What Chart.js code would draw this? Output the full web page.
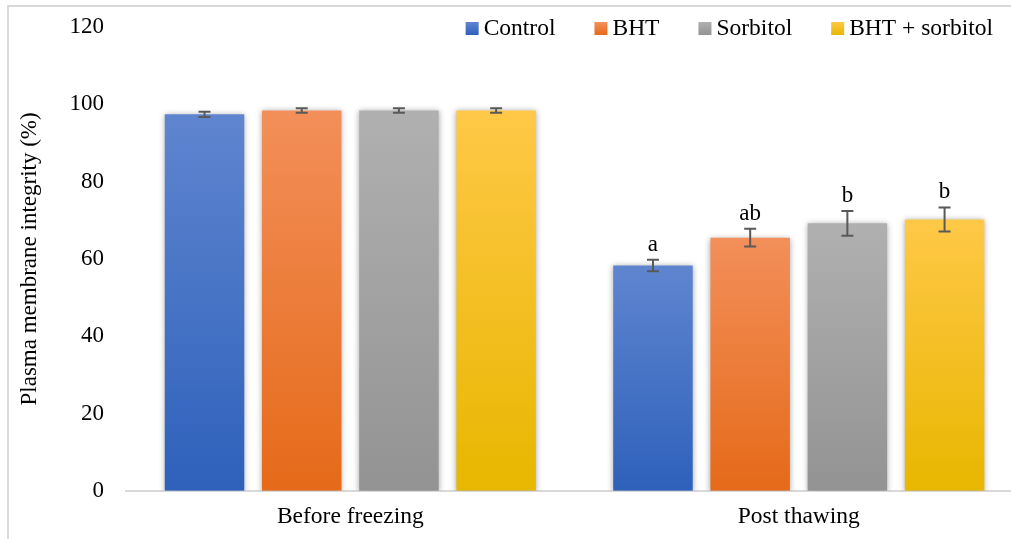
<!DOCTYPE html>
<html>
<head>
<meta charset="utf-8">
<script src="https://cdn.jsdelivr.net/npm/chart.js@4.4.1/dist/chart.umd.min.js"></script>
<style>
  html, body { margin: 0; padding: 0; background: #fff; overflow: hidden; }
  #clip { position: absolute; left: 0; top: 0; width: 1011px; height: 539px; overflow: hidden; }
  #frame { position: absolute; left: 7px; top: 5px; width: 1200px; height: 800px;
           border-left: 2px solid #d9d9d9; border-top: 2px solid #d9d9d9; }
  #wrap { position: absolute; left: 0; top: 0; width: 1025px; height: 539px; }
</style>
</head>
<body>
<div id="clip">
<div id="frame"></div>
<div id="wrap"><canvas id="pmi"></canvas></div>
</div>
<script>
// Setup
const categories = ['Before freezing', 'Post thawing']
const seriesNames = ['Control', 'BHT', 'Sorbitol', 'BHT + sorbitol']

const control = [97.4, 58.3]
const bht = [98.4, 65.5]
const sorbitol = [98.4, 69.2]
const bhtSorbitol = [98.4, 70.2]

const controlErr = [0.7, 1.5]
const bhtErr = [0.6, 2.3]
const sorbitolErr = [0.6, 3.2]
const bhtSorbitolErr = [0.6, 3.1]

// significance letters over the bars
const controlSig = ['', 'a']
const bhtSig = ['', 'ab']
const sorbitolSig = ['', 'b']
const bhtSorbitolSig = ['', 'b']

const yTicks = [0, 20, 40, 60, 80, 100, 120]

const FONT = '"Liberation Serif", "Times New Roman", serif'
// [top, bottom] of each bar gradient
const COLORS = [
    ['#5f85cf', '#2e61bb'],
    ['#f38f5a', '#e56a19'],
    ['#b0b0b0', '#939393'],
    ['#ffc847', '#e7b700'],
]

const values = [control, bht, sorbitol, bhtSorbitol]
const errors = [controlErr, bhtErr, sorbitolErr, bhtSorbitolErr]
const sigs = [controlSig, bhtSig, sorbitolSig, bhtSorbitolSig]

function barFill(context) {
    const cols = COLORS[context.datasetIndex]
    const chart = context.chart
    if (!chart.chartArea || context.type !== 'data') return cols[0]
    const y = chart.scales.y
    const top = y.getPixelForValue(context.raw)
    const base = y.getPixelForValue(0)
    const g = chart.ctx.createLinearGradient(0, top, 0, base)
    g.addColorStop(0, cols[0])
    g.addColorStop(1, cols[1])
    return g
}

const data = {
    labels: categories,
    datasets: seriesNames.map((name, i) => ({
        label: name,
        data: values[i],
        backgroundColor: barFill,
        borderWidth: 0,
        categoryPercentage: 0.867,
        barPercentage: 0.818,
    }))
}

// soft shadow under bars, error bars, letters, legend
const extras = {
    id: 'extras',
    beforeDatasetsDraw(chart) {
        const ctx = chart.ctx
        ctx.save()
        ctx.shadowColor = 'rgba(0,0,0,0.35)'
        ctx.shadowBlur = 6
        ctx.shadowOffsetY = 1
    },
    afterDatasetsDraw(chart) {
        const ctx = chart.ctx
        ctx.restore()
        const y = chart.scales.y
        ctx.save()
        ctx.strokeStyle = '#595959'
        ctx.lineWidth = 2
        ctx.fillStyle = '#000'
        ctx.font = '23px ' + FONT
        ctx.textAlign = 'center'
        ctx.textBaseline = 'alphabetic'
        chart.data.datasets.forEach((ds, i) => {
            const meta = chart.getDatasetMeta(i)
            meta.data.forEach((bar, j) => {
                const v = values[i][j], e = errors[i][j]
                const hi = y.getPixelForValue(v + e)
                const lo = y.getPixelForValue(v - e)
                ctx.beginPath()
                ctx.moveTo(bar.x, hi); ctx.lineTo(bar.x, lo)
                ctx.moveTo(bar.x - 6, hi); ctx.lineTo(bar.x + 6, hi)
                ctx.moveTo(bar.x - 6, lo); ctx.lineTo(bar.x + 6, lo)
                ctx.stroke()
                if (sigs[i][j]) ctx.fillText(sigs[i][j], bar.x, hi - 9)
            })
        })
        ctx.restore()
    },
    afterDraw(chart) {
        const ctx = chart.ctx
        ctx.save()
        ctx.font = '23.5px ' + FONT
        ctx.textBaseline = 'middle'
        ctx.fillStyle = '#000'
        let right = 993
        for (let i = seriesNames.length - 1; i >= 0; i--) {
            const w = ctx.measureText(seriesNames[i]).width
            const tx = right - w
            const sx = tx - 18
            const g = ctx.createLinearGradient(0, 22, 0, 35)
            g.addColorStop(0, COLORS[i][0]); g.addColorStop(1, COLORS[i][1])
            ctx.fillStyle = g
            ctx.fillRect(sx, 22, 13, 13)
            ctx.fillStyle = '#000'
            ctx.fillText(seriesNames[i], tx, 29)
            right = sx - 39
        }
        ctx.restore()
    }
}

// Config
const config = {
    type: 'bar',
    data: data,
    options: {
        responsive: true,
        maintainAspectRatio: false,
        animation: false,
        layout: { padding: { left: 0, right: 2, top: 27, bottom: -4 } },
        plugins: {
            legend: { display: false },
            tooltip: { enabled: false },
        },
        scales: {
            x: {
                grid: { display: false, drawTicks: false },
                border: { display: true, color: '#d9d9d9', width: 2 },
                ticks: { color: '#000', padding: 12, font: { family: FONT, size: 23.5 } },
            },
            y: {
                min: 0,
                max: 120,
                afterBuildTicks: (axis) => { axis.ticks = yTicks.map(v => ({ value: v })) },
                // tick padding is horizontal only here
                afterFit: (axis) => { axis.paddingTop = 14; axis.paddingBottom = 14 },
                grid: { display: false, drawTicks: false },
                border: { display: false },
                ticks: { color: '#000', padding: 22, font: { family: FONT, size: 23 } },
                title: {
                    display: true,
                    text: 'Plasma membrane integrity (%)',
                    color: '#000',
                    font: { family: FONT, size: 23 },
                    padding: { top: 16, bottom: 4 },
                },
            }
        },
    },
    plugins: [extras]
}

// Action
const pmiChart = new Chart(document.getElementById('pmi'), config)
</script>
</body>
</html>
